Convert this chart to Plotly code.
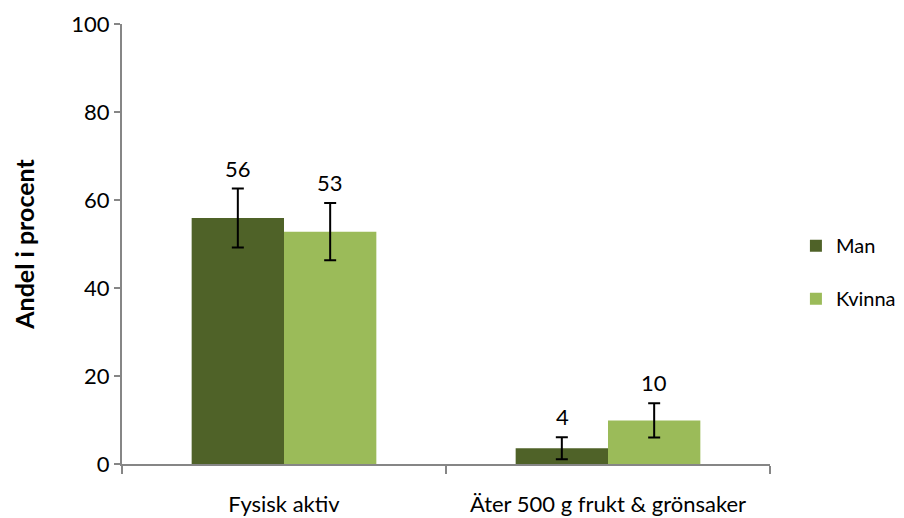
import plotly.graph_objects as go

kategorier = ['Fysisk aktiv', 'Äter 500 g frukt & grönsaker']
man = [55.9, 3.6]
kvinna = [52.8, 9.9]
man_fel = [6.7, 2.5]
kvinna_fel = [6.5, 3.9]
man_etikett = ['56', '4']
kvinna_etikett = ['53', '10']

font = 'Lato, Open Sans, sans-serif'

fig = go.Figure()
fig.add_trace(go.Bar(
    name='Man', x=kategorier, y=man, marker_color='#4F6228', marker_line_width=0,
    legendgroup='m',
    error_y=dict(type='data', array=man_fel, color='black', thickness=2, width=6),
))
fig.add_trace(go.Bar(
    name='Kvinna', x=kategorier, y=kvinna, marker_color='#9BBB59', marker_line_width=0,
    legendgroup='k',
    error_y=dict(type='data', array=kvinna_fel, color='black', thickness=2, width=6),
))

# etiketter ovanför felstaplarna
for i, k in enumerate(kategorier):
    fig.add_annotation(x=k, y=man[i] + man_fel[i], text=man_etikett[i], showarrow=False,
                       yanchor='bottom', yshift=5, xshift=-46, font=dict(size=22, color='black'))
    fig.add_annotation(x=k, y=kvinna[i] + kvinna_fel[i], text=kvinna_etikett[i], showarrow=False,
                       yanchor='bottom', yshift=5, xshift=46, font=dict(size=22, color='black'))

# sidan har 8 px marginal i body, därför mindre figur
fig.update_layout(
    width=896, height=510,
    template='plotly_white',
    font=dict(family=font, size=22, color='black'),
    barmode='group',
    bargap=0.43,
    bargroupgap=0,
    margin=dict(l=114, r=134, t=16, b=54, autoexpand=False),
    plot_bgcolor='white',
    paper_bgcolor='white',
    legend=dict(x=1.04, y=0.436, xanchor='left', yanchor='middle',
                font=dict(size=20), tracegroupgap=24, traceorder='grouped'),
    xaxis=dict(
        showline=True, linecolor='#868686', linewidth=2, automargin=False,
        ticks='outside', tickson='boundaries', ticklen=8, tickcolor='#868686', tickwidth=2,
        showgrid=False, tickfont=dict(size=22), ticklabelstandoff=20,
    ),
    yaxis=dict(
        range=[0, 100], dtick=20, showline=True, linecolor='#868686', linewidth=2,
        automargin=False,
        ticks='outside', ticklen=6, tickcolor='#868686', tickwidth=2,
        showgrid=False, zeroline=False, tickfont=dict(size=22),
        title=dict(text='<b>Andel i procent</b>', font=dict(size=25), standoff=30),
    ),
)

fig.write_html('out.html')
